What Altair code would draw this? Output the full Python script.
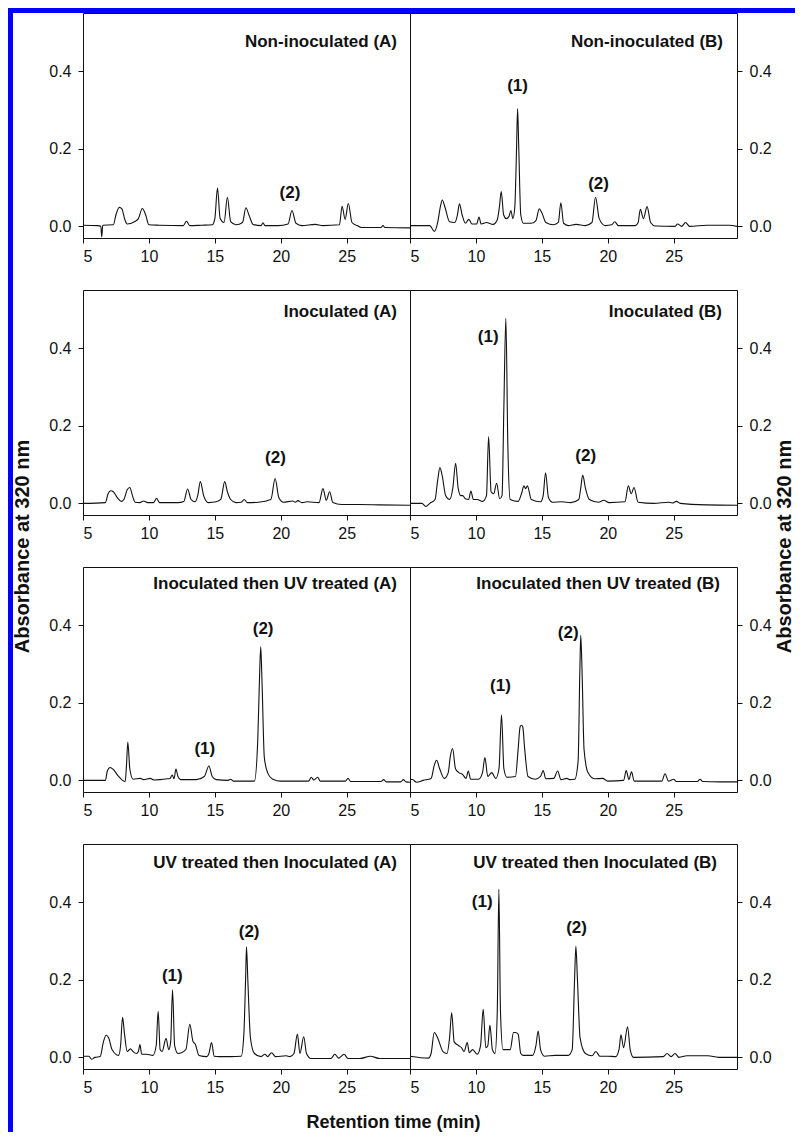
import altair as alt
import pandas as pd

FONT = "Liberation Sans"
BLUE = "#0000ff"
INK = "#111111"

X_TICKS = [5, 10, 15, 20, 25]
Y_TICKS = [0.0, 0.2, 0.4]
X_DOMAIN = [5, 29.8]
Y_DOMAIN = [-0.03, 0.55]

# ---------------- Non-inoculated (A) ----------------
t_non_a = [5.0, 6.1, 6.35, 6.42, 6.5, 7.3, 7.5, 7.75, 7.95, 8.15, 8.35, 8.9, 9.2, 9.5, 9.75, 10.0, 10.8,
           12.6, 12.85, 13.1, 14.0, 14.8, 15.0, 15.2, 15.4, 15.7, 15.95, 16.2, 16.6, 17.1, 17.35, 17.6,
           17.9, 18.5, 18.65, 18.8, 19.8, 20.55, 20.85, 21.15, 21.6, 22.6, 23.2, 24.45, 24.65, 24.88,
           25.12, 25.4, 25.8, 26.1, 27.6, 27.75, 27.9, 29.8]
abs_non_a = [0.003, 0.002, 0.0, -0.027, 0.003, 0.004, 0.03, 0.049, 0.045, 0.02, 0.006, 0.012, 0.02,
             0.046, 0.03, 0.004, 0.003, 0.002, 0.013, 0.002, 0.003, 0.004, 0.02, 0.099, 0.02, 0.01,
             0.075, 0.012, 0.004, 0.01, 0.048, 0.028, 0.005, 0.002, 0.009, 0.002, 0.002, 0.006, 0.041,
             0.008, 0.002, 0.005, 0.002, 0.004, 0.052, 0.018, 0.059, 0.01, 0.002, -0.003, -0.003,
             0.002, -0.003, -0.004]
lab_non_a = ["(2)"]
lab_t_non_a = [20.7]
lab_abs_non_a = [0.085]

# ---------------- Non-inoculated (B) ----------------
t_non_b = [5.0, 6.5, 6.85, 7.1, 7.3, 7.45, 7.65, 8.0, 8.4, 8.6, 8.75, 8.95, 9.2, 9.47, 9.7, 10.05,
           10.23, 10.4, 10.8, 11.3, 11.6, 11.78, 11.92, 12.1, 12.3, 12.5, 12.65, 12.8, 12.95, 13.08,
           13.16, 13.25, 13.4, 13.6, 14.2, 14.55, 14.8, 15.0, 15.3, 15.9, 16.25, 16.44, 16.65, 17.0,
           17.6, 18.3, 18.8, 19.07, 19.35, 19.8, 20.3, 20.53, 20.8, 22.1, 22.3, 22.47, 22.7, 22.98,
           23.25, 23.6, 25.1, 25.3, 25.6, 25.9, 26.2, 27.5, 28.3, 29.2, 29.8]
abs_non_b = [0.002, 0.002, -0.013, 0.01, 0.05, 0.068, 0.05, 0.012, 0.01, 0.03, 0.058, 0.03, 0.008,
             0.018, 0.006, 0.006, 0.024, 0.006, 0.01, 0.005, 0.015, 0.05, 0.09, 0.03, 0.02, 0.025,
             0.041, 0.02, 0.05, 0.2, 0.304, 0.2, 0.03, 0.008, 0.008, 0.015, 0.045, 0.035, 0.01, 0.004,
             0.01, 0.061, 0.008, 0.002, 0.005, 0.002, 0.01, 0.075, 0.02, 0.002, 0.004, 0.012, 0.002,
             0.002, 0.01, 0.044, 0.02, 0.051, 0.01, 0.001, 0.0, 0.006, 0.0, 0.01, 0.0, 0.003, 0.003,
             0.003, 0.0]
lab_non_b = ["(1)", "(2)"]
lab_t_non_b = [13.16, 19.3]
lab_abs_non_b = [0.362, 0.108]

# ---------------- Inoculated (A) ----------------
t_ino_a = [5.0, 6.7, 6.9, 7.1, 7.3, 7.6, 7.9, 8.1, 8.35, 8.55, 8.75, 8.95, 9.3, 9.6, 9.9, 10.35, 10.58,
           10.8, 12.2, 12.65, 12.93, 13.2, 13.5, 13.7, 13.9, 14.15, 14.5, 15.1, 15.45, 15.75, 15.95,
           16.2, 16.6, 17.0, 17.23, 17.45, 18.3, 19.25, 19.57, 19.85, 20.2, 20.9, 21.1, 21.3, 21.6,
           22.0, 22.9, 23.2, 23.45, 23.7, 23.95, 24.6, 26.0, 27.5, 29.8]
abs_ino_a = [0.0, 0.002, 0.025, 0.0325, 0.03, 0.015, 0.005, 0.01, 0.035, 0.041, 0.02, 0.003, 0.002,
             0.006, 0.002, 0.002, 0.013, 0.002, 0.002, 0.005, 0.037, 0.01, 0.004, 0.02, 0.056, 0.02,
             0.002, 0.004, 0.01, 0.056, 0.03, 0.01, 0.002, 0.003, 0.01, 0.002, 0.003, 0.01, 0.064,
             0.015, 0.003, 0.006, 0.003, 0.007, 0.002, 0.004, 0.002, 0.038, 0.008, 0.03, 0.002,
             -0.003, -0.003, -0.004, -0.005]
lab_ino_a = ["(2)"]
lab_t_ino_a = [19.6]
lab_abs_ino_a = [0.118]

# ---------------- Inoculated (B) ----------------
t_ino_b = [5.0, 5.9, 6.2, 6.5, 6.9, 7.1, 7.27, 7.45, 7.7, 8.0, 8.25, 8.46, 8.65, 8.85, 9.0, 9.2, 9.45,
           9.62, 9.8, 10.1, 10.5, 10.8, 10.96, 11.15, 11.35, 11.57, 11.8, 11.98, 12.12, 12.27, 12.42,
           12.6, 13.2, 13.5, 13.64, 13.77, 13.9, 14.2, 14.9, 15.1, 15.28, 15.5, 15.8, 16.5, 17.2,
           17.8, 17.95, 18.1, 18.3, 18.6, 19.3, 19.7, 20.1, 21.3, 21.56, 21.78, 21.99, 22.3, 23.5,
           24.6, 24.9, 25.2, 25.5, 27.5, 29.8]
abs_ino_b = [0.0, 0.0, -0.008, 0.0, 0.01, 0.06, 0.092, 0.07, 0.02, 0.01, 0.04, 0.103, 0.04, 0.02,
             0.02, 0.012, 0.01, 0.032, 0.01, 0.01, 0.005, 0.02, 0.172, 0.03, 0.025, 0.052, 0.012,
             0.02, 0.25, 0.477, 0.15, 0.01, 0.005, 0.03, 0.045, 0.038, 0.045, 0.01, 0.004, 0.02,
             0.079, 0.015, 0.003, 0.004, 0.002, 0.01, 0.04, 0.073, 0.04, 0.01, 0.003, 0.008, 0.002,
             0.004, 0.045, 0.025, 0.041, 0.003, 0.0, 0.003, 0.001, 0.005, 0.0, -0.004, -0.005]
lab_ino_b = ["(1)", "(2)"]
lab_t_ino_b = [10.93, 18.33]
lab_abs_ino_b = [0.43, 0.122]

# ---------------- Inoculated then UV treated (A) ----------------
t_iuv_a = [5.0, 6.7, 6.85, 7.05, 7.3, 7.7, 8.0, 8.2, 8.3, 8.4, 8.55, 8.8, 9.35, 9.6, 10.1, 10.4, 11.4,
           11.6, 11.77, 11.9, 12.05, 12.2, 12.4, 12.7, 13.6, 14.2, 14.55, 14.8, 15.1, 16.0, 16.2,
           16.4, 18.0, 18.25, 18.4, 18.48, 18.58, 18.75, 19.0, 19.4, 20.0, 22.1, 22.32, 22.5, 22.8,
           23.0, 24.9, 25.1, 25.3, 27.6, 27.8, 28.0, 29.1, 29.3, 29.5, 29.8]
abs_iuv_a = [0.0, 0.0, 0.025, 0.033, 0.028, 0.01, 0.0, -0.003, 0.04, 0.099, 0.03, 0.003, 0.005,
             0.002, 0.005, 0.001, 0.004, 0.005, 0.014, 0.004, 0.029, 0.01, 0.002, 0.002, 0.002,
             0.01, 0.037, 0.01, 0.002, 0.0, 0.003, -0.002, -0.002, 0.1, 0.28, 0.344, 0.25, 0.06,
             0.02, 0.003, -0.002, -0.002, 0.008, 0.001, 0.008, -0.002, -0.002, 0.005, -0.003,
             -0.003, 0.002, -0.004, -0.004, 0.002, -0.004, -0.005]
lab_iuv_a = ["(1)", "(2)"]
lab_t_iuv_a = [14.24, 18.66]
lab_abs_iuv_a = [0.08, 0.391]

# ---------------- Inoculated then UV treated (B) ----------------
t_iuv_b = [5.0, 5.15, 5.5, 6.0, 6.6, 6.85, 7.02, 7.25, 7.6, 7.9, 8.05, 8.23, 8.45, 8.7, 9.0, 9.25,
           9.42, 9.6, 10.2, 10.5, 10.68, 10.9, 11.2, 11.5, 11.75, 11.94, 12.12, 12.35, 13.0, 13.2,
           13.35, 13.45, 13.55, 13.7, 13.95, 14.5, 14.9, 15.1, 15.3, 15.9, 16.2, 16.45, 16.9, 17.1,
           17.5, 17.75, 17.88, 17.95, 18.05, 18.2, 18.5, 19.0, 19.6, 20.0, 21.2, 21.4, 21.6, 21.8,
           22.0, 24.1, 24.34, 24.6, 25.0, 25.2, 26.8, 27.0, 27.2, 28.5, 29.8]
abs_iuv_b = [0.0, 0.003, -0.005, 0.0, 0.005, 0.04, 0.052, 0.03, 0.005, 0.02, 0.06, 0.082, 0.03,
             0.02, 0.015, 0.005, 0.024, 0.003, 0.003, 0.02, 0.059, 0.01, 0.02, 0.005, 0.03, 0.169,
             0.03, 0.008, 0.01, 0.08, 0.138, 0.142, 0.138, 0.08, 0.01, 0.003, 0.01, 0.025, 0.004,
             0.005, 0.024, 0.002, 0.005, 0.002, 0.003, 0.05, 0.28, 0.374, 0.28, 0.08, 0.02, 0.004,
             0.005, -0.002, 0.0, 0.025, 0.002, 0.022, -0.002, -0.002, 0.017, -0.002, 0.003, -0.003,
             -0.003, 0.003, -0.003, -0.004, -0.004]
lab_iuv_b = ["(1)", "(2)"]
lab_t_iuv_b = [11.86, 17.0]
lab_abs_iuv_b = [0.243, 0.38]

# ---------------- UV treated then Inoculated (A) ----------------
t_uvi_a = [5.0, 5.45, 5.65, 5.9, 6.3, 6.55, 6.75, 6.95, 7.2, 7.7, 7.85, 8.0, 8.15, 8.35, 8.6, 8.8,
           9.05, 9.2, 9.32, 9.45, 9.8, 10.3, 10.55, 10.7, 10.85, 11.0, 11.3, 11.5, 11.65, 11.79,
           11.95, 12.2, 12.8, 13.1, 13.35, 13.5, 13.8, 14.4, 14.55, 14.75, 14.95, 15.3, 16.2, 17.0,
           17.2, 17.33, 17.4, 17.5, 17.7, 18.0, 18.5, 18.8, 19.0, 19.3, 19.6, 20.4, 20.7, 21.0,
           21.26, 21.45, 21.74, 21.95, 22.3, 23.8, 24.1, 24.4, 24.8, 25.1, 26.0, 26.8, 27.5, 29.8]
abs_uvi_a = [0.003, 0.003, -0.005, 0.0, 0.002, 0.04, 0.057, 0.05, 0.02, 0.005, 0.03, 0.103, 0.06,
             0.015, 0.022, 0.015, 0.01, 0.015, 0.033, 0.008, 0.008, 0.005, 0.03, 0.119, 0.02, 0.015,
             0.049, 0.02, 0.04, 0.174, 0.03, 0.01, 0.02, 0.085, 0.04, 0.035, 0.005, 0.002, 0.01,
             0.038, 0.003, 0.002, 0.002, 0.003, 0.06, 0.2, 0.285, 0.2, 0.05, 0.01, 0.002, 0.008,
             0.002, 0.012, 0.002, 0.004, 0.002, 0.01, 0.06, 0.01, 0.053, 0.01, -0.003, -0.003, 0.008,
             -0.002, 0.008, -0.003, -0.003, 0.003, -0.003, -0.003]
lab_uvi_a = ["(1)", "(2)"]
lab_t_uvi_a = [11.77, 17.6]
lab_abs_uvi_a = [0.211, 0.322]

# ---------------- UV treated then Inoculated (B) ----------------
t_uvi_b = [5.0, 6.4, 6.6, 6.84, 7.1, 7.5, 7.8, 8.0, 8.16, 8.35, 8.7, 8.9, 9.1, 9.34, 9.5, 9.75, 10.1,
           10.35, 10.55, 10.75, 10.9, 11.06, 11.25, 11.45, 11.62, 11.74, 11.86, 12.05, 12.6, 12.85,
           13.0, 13.2, 13.4, 13.6, 14.3, 14.55, 14.72, 14.9, 15.2, 16.0, 16.5, 17.0, 17.3, 17.48,
           17.58, 17.7, 17.9, 18.3, 18.8, 19.1, 19.4, 20.0, 20.6, 20.85, 21.0, 21.2, 21.5, 21.7,
           21.95, 24.2, 24.5, 24.8, 25.1, 25.4, 26.0, 26.7, 27.6, 28.4, 29.8]
abs_uvi_b = [0.003, -0.002, 0.01, 0.064, 0.05, 0.015, 0.01, 0.05, 0.115, 0.04, 0.03, 0.025, 0.015,
             0.038, 0.012, 0.02, 0.008, 0.03, 0.124, 0.025, 0.03, 0.083, 0.02, 0.01, 0.12, 0.433,
             0.12, 0.02, 0.02, 0.064, 0.064, 0.06, 0.01, 0.005, 0.005, 0.03, 0.068, 0.02, 0.003,
             0.005, 0.005, 0.005, 0.02, 0.2, 0.286, 0.2, 0.05, 0.01, 0.004, 0.015, 0.003, 0.003,
             0.002, 0.02, 0.058, 0.025, 0.079, 0.02, 0.0, 0.002, 0.01, 0.002, 0.01, 0.0, 0.004,
             0.004, 0.004, 0.0, 0.0]
lab_uvi_b = ["(1)", "(2)"]
lab_t_uvi_b = [10.48, 17.63]
lab_abs_uvi_b = [0.40, 0.333]

PW, PH = 327, 225             # plot area of each panel
GUTTER = 70                   # blank space between blue strip and left panels
LAST_W = 385                  # width of the right column cell (panel + room for right axis)
ROW_H = [277, 277, 277, 288]  # height of each row cell (panel + gap below)
TITLE_OFFSET = [-46, -39, -34, -36]   # panel-title placement inside each row
TITLE_DX_B = [-14, -15, -17, -20]


def panel(name, t, a, labs, lab_t, lab_a, side, row, y_title=None, x_title=None):
    assert len(t) == len(a) and len(labs) == len(lab_t) == len(lab_a)
    xs = alt.Scale(domain=X_DOMAIN, nice=False, zero=False)
    ys = alt.Scale(domain=Y_DOMAIN, nice=False, zero=False)

    xkw = dict(values=X_TICKS, labelPadding=5, orient="bottom")
    if x_title:
        xkw.update(title=x_title, titleX=310, titleY=58, titleAlign="center",
                   titleBaseline="alphabetic", titleAngle=0, titleFontSize=18)
    else:
        xkw["title"] = None

    ykw = dict(values=Y_TICKS, format=".1f", labelPadding=7, orient=side)
    if y_title:
        ykw.update(title=y_title, titleAngle=270, titleAlign="center", titleBaseline="middle",
                   titleFontSize=20, titleY=256, titleX=(-61 if side == "left" else 47))
    else:
        ykw["title"] = None

    xaxis = alt.Axis(**xkw)
    yaxis = alt.Axis(**ykw)

    df = pd.DataFrame({"t": t, "a": a})
    line = alt.Chart(df).mark_line(color=INK, strokeWidth=1.1, interpolate="monotone",
                                   clip=True).encode(
        x=alt.X("t:Q", scale=xs, axis=xaxis),
        y=alt.Y("a:Q", scale=ys, axis=yaxis),
    )
    ldf = pd.DataFrame({"lab": labs, "t": lab_t, "a": lab_a})
    txt = alt.Chart(ldf).mark_text(font=FONT, fontSize=17, fontWeight="bold", color=INK,
                                   align="center", baseline="middle").encode(
        x=alt.X("t:Q", scale=xs, axis=xaxis),
        y=alt.Y("a:Q", scale=ys, axis=yaxis),
        text="lab:N",
    )
    dx = -13 if side == "left" else TITLE_DX_B[row]
    return alt.layer(line, txt).properties(
        width=PW, height=PH,
        title=alt.TitleParams(text=name, anchor="end", orient="top", frame="group",
                              offset=TITLE_OFFSET[row], baseline="middle", dx=dx, font=FONT,
                              fontSize=17, fontWeight="bold", color=INK),
    )


def filler(w, h, fill):
    return alt.Chart(alt.Data(values=[{"v": 0}])).mark_point(opacity=0, size=1).properties(
        width=w, height=h,
        view=alt.ViewBackground(fill=fill, stroke="transparent", strokeWidth=0),
    )


rows = [
    (("Non-inoculated (A)", t_non_a, abs_non_a, lab_non_a, lab_t_non_a, lab_abs_non_a),
     ("Non-inoculated (B)", t_non_b, abs_non_b, lab_non_b, lab_t_non_b, lab_abs_non_b)),
    (("Inoculated (A)", t_ino_a, abs_ino_a, lab_ino_a, lab_t_ino_a, lab_abs_ino_a),
     ("Inoculated (B)", t_ino_b, abs_ino_b, lab_ino_b, lab_t_ino_b, lab_abs_ino_b)),
    (("Inoculated then UV treated (A)", t_iuv_a, abs_iuv_a, lab_iuv_a, lab_t_iuv_a, lab_abs_iuv_a),
     ("Inoculated then UV treated (B)", t_iuv_b, abs_iuv_b, lab_iuv_b, lab_t_iuv_b, lab_abs_iuv_b)),
    (("UV treated then Inoculated (A)", t_uvi_a, abs_uvi_a, lab_uvi_a, lab_t_uvi_a, lab_abs_uvi_a),
     ("UV treated then Inoculated (B)", t_uvi_b, abs_uvi_b, lab_uvi_b, lab_t_uvi_b, lab_abs_uvi_b)),
]

cells = [filler(5, 5, BLUE), filler(GUTTER, 5, BLUE), filler(PW, 5, BLUE), filler(LAST_W, 5, BLUE)]
for i, (pa, pb) in enumerate(rows):
    ytitle = "Absorbance at 320 nm" if i == 1 else None
    xtitle = "Retention time (min)" if i == 3 else None
    cells.append(filler(5, ROW_H[i], BLUE))
    cells.append(filler(GUTTER, ROW_H[i], "transparent"))
    cells.append(panel(*pa, side="left", row=i, y_title=ytitle, x_title=xtitle))
    cells.append(panel(*pb, side="right", row=i, y_title=ytitle))

chart = alt.concat(*cells, columns=4, spacing=0, bounds="flush", align="each").properties(
    padding=0
).configure(font=FONT).configure_view(
    stroke=INK, strokeWidth=1
).configure_axis(
    labelFont=FONT, labelFontSize=16, labelColor=INK, tickColor=INK, tickSize=5, tickWidth=1,
    domain=False, grid=False, titleFont=FONT, titleFontWeight="bold", titleColor=INK,
)

chart.save("out.html", embed_options={"renderer": "svg", "actions": False})
